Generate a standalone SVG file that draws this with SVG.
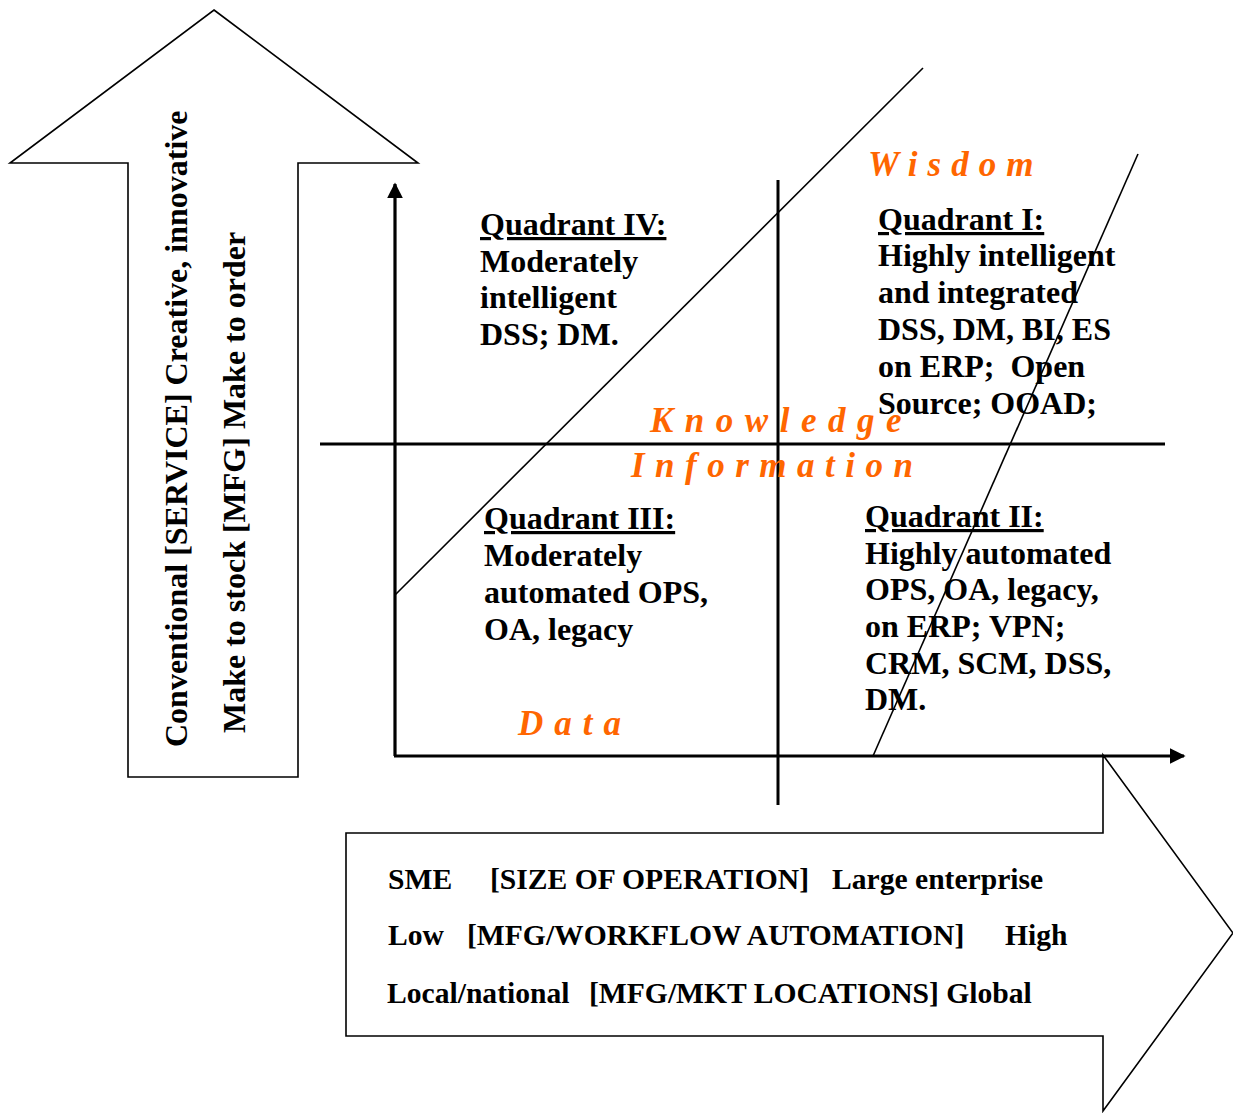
<svg xmlns="http://www.w3.org/2000/svg" width="1233" height="1113" viewBox="0 0 1233 1113">
<style>
.shape{fill:#fff;stroke:#000;stroke-width:1.6;stroke-linejoin:miter}
.axis{stroke:#000;stroke-width:3.2;fill:none}
.div{stroke:#000;stroke-width:3;fill:none}
.diag{stroke:#000;stroke-width:1.6;fill:none}
.t{font-family:"Liberation Serif","Times New Roman",serif;font-weight:bold;font-size:32px;fill:#000}
.b{font-family:"Liberation Serif","Times New Roman",serif;font-weight:bold;font-size:29.6px;fill:#000}
.o{font-family:"Liberation Serif","Times New Roman",serif;font-weight:bold;font-style:italic;font-size:35px;fill:#FF6600}
.u{text-decoration:underline}
.pre{white-space:pre}
</style>
<defs>
<marker id="ah" viewBox="0 0 10 10" refX="9" refY="5" markerWidth="5" markerHeight="5" orient="auto" markerUnits="strokeWidth">
<path d="M0,0 L10,5 L0,10 z" fill="#000"/>
</marker>
</defs>
<rect width="1233" height="1113" fill="#fff"/>

<g id="up-arrow">
<polygon class="shape" points="214,10 418,163 298,163 298,777 128,777 128,163 10,163"/>
<text class="t" transform="translate(187,747) rotate(-90)">Conventional [SERVICE] Creative, innovative</text>
<text class="t" transform="translate(245,733) rotate(-90)">Make to stock [MFG] Make to order</text>
</g>

<g id="right-arrow">
<polygon class="shape" points="346,833 1103,833 1103,755 1233,933 1103,1111 1103,1036 346,1036"/>
<text class="b" y="889"><tspan x="388">SME</tspan><tspan x="490">[SIZE OF OPERATION]</tspan><tspan x="832">Large enterprise</tspan></text>
<text class="b" y="945"><tspan x="388">Low</tspan><tspan x="467">[MFG/WORKFLOW AUTOMATION]</tspan><tspan x="1005">High</tspan></text>
<text class="b" y="1003"><tspan x="387">Local/national</tspan><tspan x="589">[MFG/MKT LOCATIONS] Global</tspan></text>
</g>

<g id="connectors">
<line class="diag" x1="395" y1="595" x2="923" y2="68"/>
<line class="diag" x1="1138" y1="154" x2="873" y2="756"/>
<line class="div" x1="778" y1="180" x2="778" y2="805"/>
<line class="div" x1="320" y1="444" x2="1165" y2="444"/>
<line class="axis" x1="395" y1="756" x2="395" y2="184" marker-end="url(#ah)"/>
<line class="axis" x1="394" y1="756" x2="1184" y2="756" marker-end="url(#ah)"/>
</g>

<g id="levels">
<text class="o" x="868" y="176" letter-spacing="10">Wisdom</text>
<text class="o" x="650" y="432" letter-spacing="11.5">Knowledge</text>
<text class="o" x="631" y="477" letter-spacing="10.5">Information</text>
<text class="o" x="518" y="735" letter-spacing="11">Data</text>
</g>

<g id="quadrant-4">
<text class="t"><tspan class="u" x="480" y="235">Quadrant IV:</tspan><tspan x="480" y="272">Moderately</tspan><tspan x="480" y="308">intelligent</tspan><tspan x="480" y="345">DSS; DM.</tspan></text>
</g>

<g id="quadrant-1">
<text class="t pre"><tspan class="u" x="878" y="230">Quadrant I:</tspan><tspan x="878" y="266">Highly intelligent</tspan><tspan x="878" y="303">and integrated</tspan><tspan x="878" y="340">DSS, DM, BI, ES</tspan><tspan x="878" y="377">on ERP;  Open</tspan><tspan x="878" y="414">Source; OOAD;</tspan></text>
</g>

<g id="quadrant-3">
<text class="t"><tspan class="u" x="484" y="529">Quadrant III:</tspan><tspan x="484" y="566">Moderately</tspan><tspan x="484" y="603">automated OPS,</tspan><tspan x="484" y="640">OA, legacy</tspan></text>
</g>

<g id="quadrant-2">
<text class="t"><tspan class="u" x="865" y="527">Quadrant II:</tspan><tspan x="865" y="564">Highly automated</tspan><tspan x="865" y="600">OPS, OA, legacy,</tspan><tspan x="865" y="637">on ERP; VPN;</tspan><tspan x="865" y="674">CRM, SCM, DSS,</tspan><tspan x="865" y="710">DM.</tspan></text>
</g>
</svg>
